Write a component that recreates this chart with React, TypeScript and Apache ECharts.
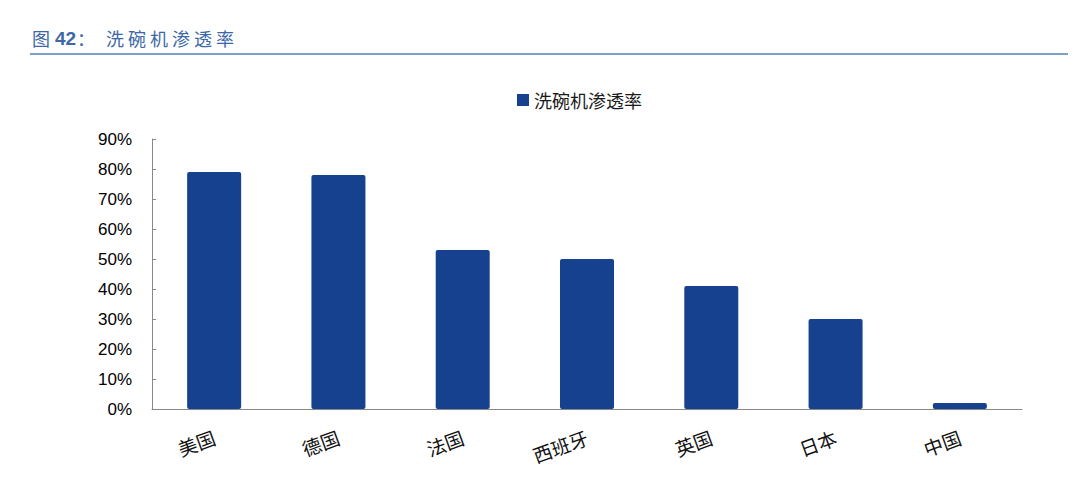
import React, { useEffect, useRef } from "react";
import * as echarts from "echarts";

const categories = ["美国", "德国", "法国", "西班牙", "英国", "日本", "中国"];
const penetration = [79, 78, 53, 50, 41, 30, 2];
const seriesName = "洗碗机渗透率";
const titleParts = ["图", "42", "：", "洗", "碗", "机", "渗", "透", "率"];
const titleOffsets = [32, 55, 77, 106, 128, 150, 172, 194, 216];

export default function App() {
  const ref = useRef<HTMLDivElement>(null);
  useEffect(() => {
    if (!ref.current) return;
    const chart = echarts.init(ref.current, undefined, { renderer: "svg" });
    const titleGraphics = titleParts.map((t, i) => ({
      type: "text",
      x: titleOffsets[i],
      y: 38,
      style: {
        text: t,
        fontSize: t === "42" ? 19 : 18,
        fontWeight: t === "42" ? "bold" : "normal",
        fill: "#3d68a6",
        fontFamily: t === "42" ? "Liberation Sans, Arial, sans-serif" : "Noto Sans CJK SC, sans-serif",
        verticalAlign: "middle",
      },
    }));
    chart.setOption({
      animation: false,
      backgroundColor: "#ffffff",
      textStyle: { fontFamily: "Liberation Sans, Noto Sans CJK SC, sans-serif" },
      graphic: [
        ...titleGraphics,
        {
          type: "line",
          shape: { x1: 30, y1: 54, x2: 1068, y2: 54 },
          style: { stroke: "#7f9fc4", lineWidth: 2 },
        },
      ],
      legend: {
        data: [seriesName],
        left: 512,
        top: 86,
        icon: "rect",
        itemWidth: 12,
        itemHeight: 12,
        itemGap: 4,
        textStyle: {
          fontSize: 18,
          color: "#1a1a1a",
          fontFamily: "Noto Sans CJK SC, sans-serif",
        },
      },
      grid: { left: 152, right: 58, top: 139, bottom: 73 },
      xAxis: {
        type: "category",
        data: categories,
        axisLine: { lineStyle: { color: "#888", width: 1 } },
        axisTick: { inside: true, length: 5, lineStyle: { color: "#888" } },
        axisLabel: {
          rotate: 20,
          fontSize: 19,
          color: "#111",
          margin: 27,
          fontFamily: "Noto Sans CJK SC, sans-serif",
        },
      },
      yAxis: {
        type: "value",
        min: 0,
        max: 90,
        interval: 10,
        splitLine: { show: false },
        axisLine: { show: true, lineStyle: { color: "#888", width: 1 } },
        axisTick: { show: true, inside: true, length: 4, lineStyle: { color: "#888" } },
        axisLabel: {
          formatter: "{value}%",
          fontSize: 17,
          color: "#000",
          margin: 20,
          fontFamily: "Liberation Sans, Arial, sans-serif",
        },
      },
      series: [
        {
          name: seriesName,
          type: "bar",
          data: penetration,
          barWidth: 54,
          itemStyle: { color: "#15418f", borderRadius: 2 },
        },
      ],
    });
    return () => chart.dispose();
  }, []);
  return (
    <div
      ref={ref}
      style={{ position: "fixed", left: 0, top: 0, width: 1080, height: 482 }}
    />
  );
}
